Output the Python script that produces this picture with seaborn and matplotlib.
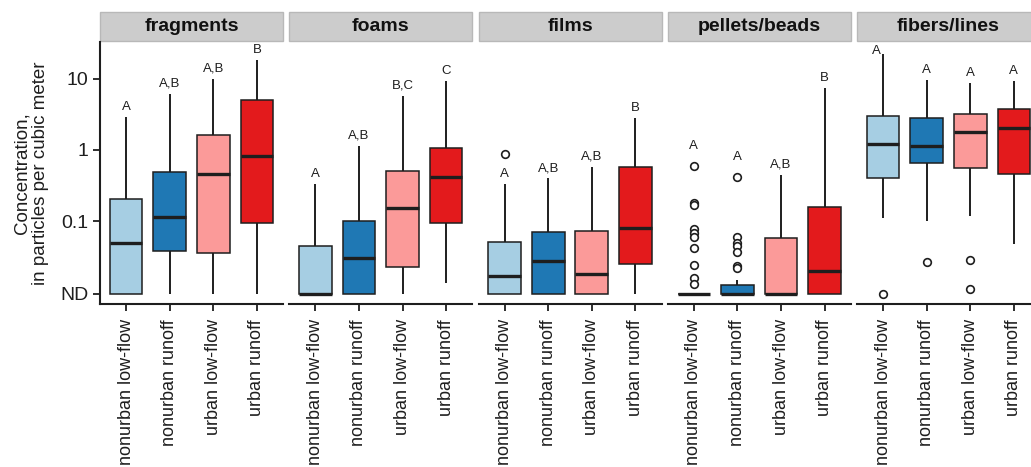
import numpy as np
import pandas as pd
import matplotlib
matplotlib.use("Agg")
import matplotlib.pyplot as plt
from matplotlib.patches import Rectangle
from matplotlib.ticker import NullLocator
import seaborn as sns

# value used to plot non-detects on the log axis
ND = 0.0095

PANELS = ["fragments", "foams", "films", "pellets/beads", "fibers/lines"]
SITES = ["nonurban low-flow", "nonurban runoff", "urban low-flow", "urban runoff"]
COLORS = ["#a6cee3", "#1f78b4", "#fb9a99", "#e31a1c"]

# box summaries, panel by panel, 4 sites each
whisker_lo = [ND, ND, ND, ND,
              ND, ND, ND, 0.0134,
              ND, ND, ND, ND,
              ND, ND, ND, ND,
              0.11, 0.10, 0.118, 0.047]
q1 = [ND, 0.038, 0.035, 0.094,
      ND, ND, 0.0225, 0.094,
      ND, ND, ND, 0.0247,
      ND, ND, ND, ND,
      0.40, 0.66, 0.56, 0.46]
median = [0.049, 0.114, 0.46, 0.82,
          ND, 0.030, 0.152, 0.42,
          0.0168, 0.0274, 0.0179, 0.080,
          ND, ND, ND, 0.0197,
          1.2, 1.14, 1.8, 2.04]
q3 = [0.204, 0.49, 1.63, 5.1,
      0.0445, 0.10, 0.51, 1.07,
      0.0505, 0.070, 0.072, 0.58,
      ND, 0.0126, 0.0575, 0.158,
      3.0, 2.8, 3.2, 3.8]
whisker_hi = [2.9, 6.1, 10.0, 18.5,
              0.33, 1.14, 5.8, 9.4,
              0.33, 0.40, 0.58, 2.8,
              ND, 0.0147, 0.445, 7.5,
              22.5, 9.7, 8.8, 9.4]
letters = ["A", "A,B", "A,B", "B",
           "A", "A,B", "B,C", "C",
           "A", "A,B", "A,B", "B",
           "A", "A", "A,B", "B",
           "A", "A", "A", "A"]

# outliers: (panel, site index, value)
out_panel = ["films",
             "pellets/beads", "pellets/beads", "pellets/beads", "pellets/beads", "pellets/beads",
             "pellets/beads", "pellets/beads", "pellets/beads", "pellets/beads", "pellets/beads",
             "pellets/beads", "pellets/beads", "pellets/beads", "pellets/beads", "pellets/beads",
             "pellets/beads", "pellets/beads",
             "fibers/lines", "fibers/lines", "fibers/lines", "fibers/lines"]
out_site = [0,
            0, 0, 0, 0, 0, 0, 0, 0, 0, 0,
            1, 1, 1, 1, 1, 1, 1,
            0, 1, 2, 2]
out_value = [0.88,
             0.60, 0.18, 0.17, 0.077, 0.068, 0.060, 0.042, 0.024, 0.0157, 0.013,
             0.42, 0.060, 0.049, 0.044, 0.037, 0.023, 0.022,
             ND, 0.0265, 0.028, 0.011]

boxes = pd.DataFrame({
    "panel": np.repeat(PANELS, 4),
    "site": SITES * 5,
    "lo": whisker_lo, "q1": q1, "med": median, "q3": q3, "hi": whisker_hi,
    "letter": letters,
})
# five points per box reproduce the quartiles exactly
long = boxes.melt(id_vars=["panel", "site"], value_vars=["lo", "q1", "med", "q3", "hi"],
                  value_name="conc")
outliers = pd.DataFrame({
    "panel": out_panel,
    "site": [SITES[i] for i in out_site],
    "conc": out_value,
})

sns.set_theme(style="white")
plt.rcParams["font.family"] = ["Liberation Sans", "DejaVu Sans"]
INK = "#1e1e1e"

W, H = 1031, 467
fig = plt.figure(figsize=(W / 100, H / 100), dpi=100)

for p, panel in enumerate(PANELS):
    left = 100 + p * 189.25
    ax = fig.add_axes([left / W, (H - 304) / H, 183 / W, 262 / H])
    sub = long[long.panel == panel]
    sns.boxplot(data=sub, x="site", y="conc", hue="site", order=SITES, hue_order=SITES,
                palette=COLORS, legend=False, whis=np.inf, width=0.75, showcaps=False,
                linecolor=INK, linewidth=1.1, log_scale=True, saturation=1, ax=ax,
                medianprops=dict(linewidth=2.4, color=INK),
                whiskerprops=dict(linewidth=1.4, color=INK))
    o = outliers[outliers.panel == panel]
    if len(o):
        sns.stripplot(data=o, x="site", y="conc", order=SITES, jitter=False,
                      color="white", edgecolor=INK, linewidth=1.2, size=5.5,
                      log_scale=True, ax=ax)

    # significance letters above each box
    b = boxes[boxes.panel == panel].reset_index(drop=True)
    for i, row in b.iterrows():
        ob = o[o.site == row.site]
        if row.q3 < 0.02 and len(ob):
            ax.annotate(row.letter, (i, ob.conc.max()), xytext=(0, 10),
                        textcoords="offset points", ha="center", va="bottom",
                        fontsize=9.5, color=INK)
        elif row.hi > 20:
            ax.annotate(row.letter, (i, row.hi), xytext=(-2, -2),
                        textcoords="offset points", ha="right", va="bottom",
                        fontsize=9.5, color=INK)
        else:
            ax.annotate(row.letter, (i, row.hi), xytext=(0, 3),
                        textcoords="offset points", ha="center", va="bottom",
                        fontsize=9.5, color=INK)

    ax.set_xlim(-0.6, 3.6)
    ax.set_ylim(0.0068, 33)
    ax.yaxis.set_minor_locator(NullLocator())
    ax.set_xlabel("")
    ax.tick_params(axis="x", length=5, width=1.3, color=INK, labelsize=13,
                   labelcolor=INK, rotation=90, pad=6, bottom=True)
    for s in ["top", "right"]:
        ax.spines[s].set_visible(False)
    ax.spines["bottom"].set_color(INK)
    ax.spines["bottom"].set_linewidth(1.5)
    if p == 0:
        ax.set_yticks([ND, 0.1, 1, 10])
        ax.set_yticklabels(["ND", "0.1", "1", "10"])
        ax.tick_params(axis="y", length=5, width=1.3, color=INK, labelsize=14,
                       labelcolor=INK, left=True)
        ax.spines["left"].set_color(INK)
        ax.spines["left"].set_linewidth(1.5)
        ax.set_ylabel("Concentration,\nin particles per cubic meter", fontsize=13.5,
                      color=INK, labelpad=8, linespacing=1.1)
    else:
        ax.set_yticks([])
        ax.set_ylabel("")
        ax.spines["left"].set_visible(False)

    # facet strip
    ax.add_patch(Rectangle((0, 1 + 1 / 262), 1, 29 / 262, transform=ax.transAxes,
                           facecolor="#cccccc", edgecolor="#b8b8b8", linewidth=1,
                           clip_on=False))
    ax.text(0.5, 1 + 15.5 / 262, panel, transform=ax.transAxes, ha="center",
            va="center", fontsize=14, fontweight="bold", color="#111111")

fig.savefig("out.png", dpi=100)
